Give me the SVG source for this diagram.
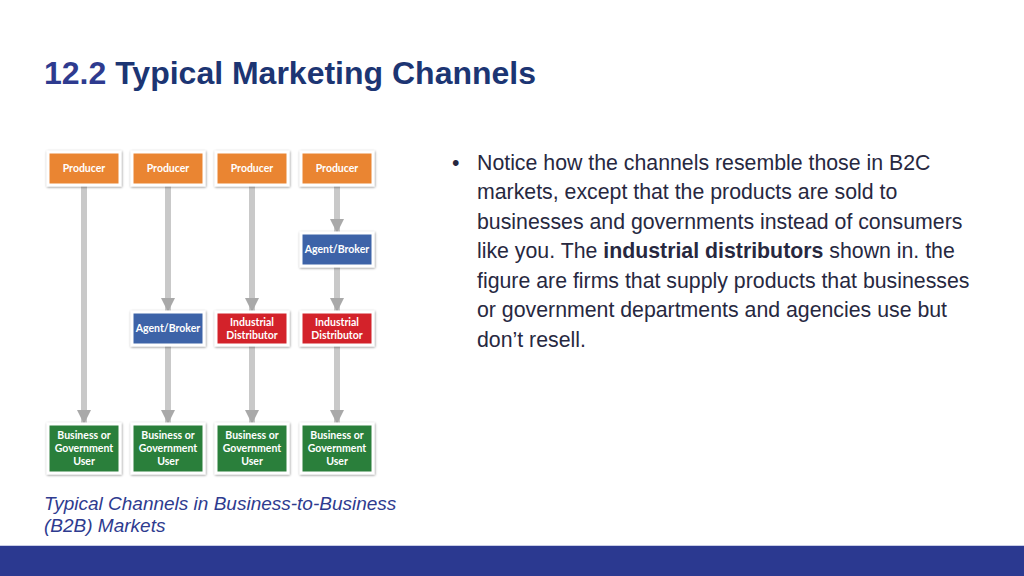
<svg xmlns="http://www.w3.org/2000/svg" width="1024" height="576" viewBox="0 0 1024 576">
<style>
.box{stroke:#ffffff;stroke-width:3;filter:url(#sh)}
.or{fill:#ea8532}.bl{fill:#3d64a8}.rd{fill:#d3222b}.gr{fill:#2a7f3a}
.lbl{font-family:Lato,"Open Sans","DejaVu Sans",sans-serif;font-weight:bold;font-size:10.5px;fill:#ffffff;text-anchor:middle}
.conn line{stroke:#c9c9c9;stroke-width:6;marker-end:url(#ah)}
.body{font-family:"Liberation Sans",Arial,sans-serif;font-size:21.3px;fill:#27283f}
</style>
<defs>
<filter id="sh" x="-20%" y="-20%" width="140%" height="140%">
<feDropShadow dx="0.5" dy="0.8" stdDeviation="1.3" flood-color="#000" flood-opacity="0.45"/>
</filter>
<marker id="ah" markerUnits="userSpaceOnUse" markerWidth="14" markerHeight="14" refX="13" refY="7" orient="auto" viewBox="0 0 14 14">
<path d="M0,0 L14,7 L0,14 Z" fill="#a9a9a9"/>
</marker>
</defs>
<rect width="1024" height="576" fill="#ffffff"/>
<text x="44" y="84" font-family="Liberation Sans,Arial,sans-serif" font-weight="bold" font-size="32" fill="#1c3573"><tspan fill="#2e3b8f">12.2</tspan> Typical Marketing Channels</text>

<g class="conn">
<line x1="84" y1="186" x2="84" y2="423"/>
<line x1="168" y1="186" x2="168" y2="311"/>
<line x1="168" y1="346" x2="168" y2="423"/>
<line x1="252" y1="186" x2="252" y2="311"/>
<line x1="252" y1="346" x2="252" y2="423"/>
<line x1="337" y1="186" x2="337" y2="232"/>
<line x1="337" y1="267" x2="337" y2="311"/>
<line x1="337" y1="346" x2="337" y2="423"/>
</g>

<g id="producer1"><rect class="box or" x="48" y="152" width="72" height="33"/><text class="lbl" x="84" y="172">Producer</text></g>
<g id="producer2"><rect class="box or" x="132" y="152" width="72" height="33"/><text class="lbl" x="168" y="172">Producer</text></g>
<g id="producer3"><rect class="box or" x="216" y="152" width="72" height="33"/><text class="lbl" x="252" y="172">Producer</text></g>
<g id="producer4"><rect class="box or" x="301" y="152" width="72" height="33"/><text class="lbl" x="337" y="172">Producer</text></g>

<g id="agent4"><rect class="box bl" x="301" y="233" width="72" height="33"/><text class="lbl" x="337" y="253">Agent/Broker</text></g>

<g id="agent2"><rect class="box bl" x="132" y="312" width="72" height="33"/><text class="lbl" x="168" y="332">Agent/Broker</text></g>
<g id="industrial3"><rect class="box rd" x="216" y="312" width="72" height="33"/><text class="lbl" x="252" y="326">Industrial</text><text class="lbl" x="252" y="339">Distributor</text></g>
<g id="industrial4"><rect class="box rd" x="301" y="312" width="72" height="33"/><text class="lbl" x="337" y="326">Industrial</text><text class="lbl" x="337" y="339">Distributor</text></g>

<g id="user1"><rect class="box gr" x="48" y="424" width="72" height="49"/><text class="lbl" x="84" y="439">Business or</text><text class="lbl" x="84" y="452">Government</text><text class="lbl" x="84" y="465">User</text></g>
<g id="user2"><rect class="box gr" x="132" y="424" width="72" height="49"/><text class="lbl" x="168" y="439">Business or</text><text class="lbl" x="168" y="452">Government</text><text class="lbl" x="168" y="465">User</text></g>
<g id="user3"><rect class="box gr" x="216" y="424" width="72" height="49"/><text class="lbl" x="252" y="439">Business or</text><text class="lbl" x="252" y="452">Government</text><text class="lbl" x="252" y="465">User</text></g>
<g id="user4"><rect class="box gr" x="301" y="424" width="72" height="49"/><text class="lbl" x="337" y="439">Business or</text><text class="lbl" x="337" y="452">Government</text><text class="lbl" x="337" y="465">User</text></g>

<text class="body" x="452" y="170">•</text>
<text class="body" x="477" y="170">Notice how the channels resemble those in B2C</text>
<text class="body" x="477" y="199">markets, except that the products are sold to</text>
<text class="body" x="477" y="229">businesses and governments instead of consumers</text>
<text class="body" x="477" y="258">like you. The <tspan font-weight="bold">industrial distributors</tspan> shown in. the</text>
<text class="body" x="477" y="288">figure are firms that supply products that businesses</text>
<text class="body" x="477" y="317">or government departments and agencies use but</text>
<text class="body" x="477" y="347">don’t resell.</text>

<text x="44" y="510" font-family="Liberation Sans,Arial,sans-serif" font-style="italic" font-size="19" fill="#2e3b8f">Typical Channels in Business-to-Business</text>
<text x="44" y="532" font-family="Liberation Sans,Arial,sans-serif" font-style="italic" font-size="19" fill="#2e3b8f">(B2B) Markets</text>

<rect x="0" y="545" width="1024" height="1" fill="#c9cde6"/>
<rect x="0" y="546" width="1024" height="30" fill="#2b3990"/>
</svg>
